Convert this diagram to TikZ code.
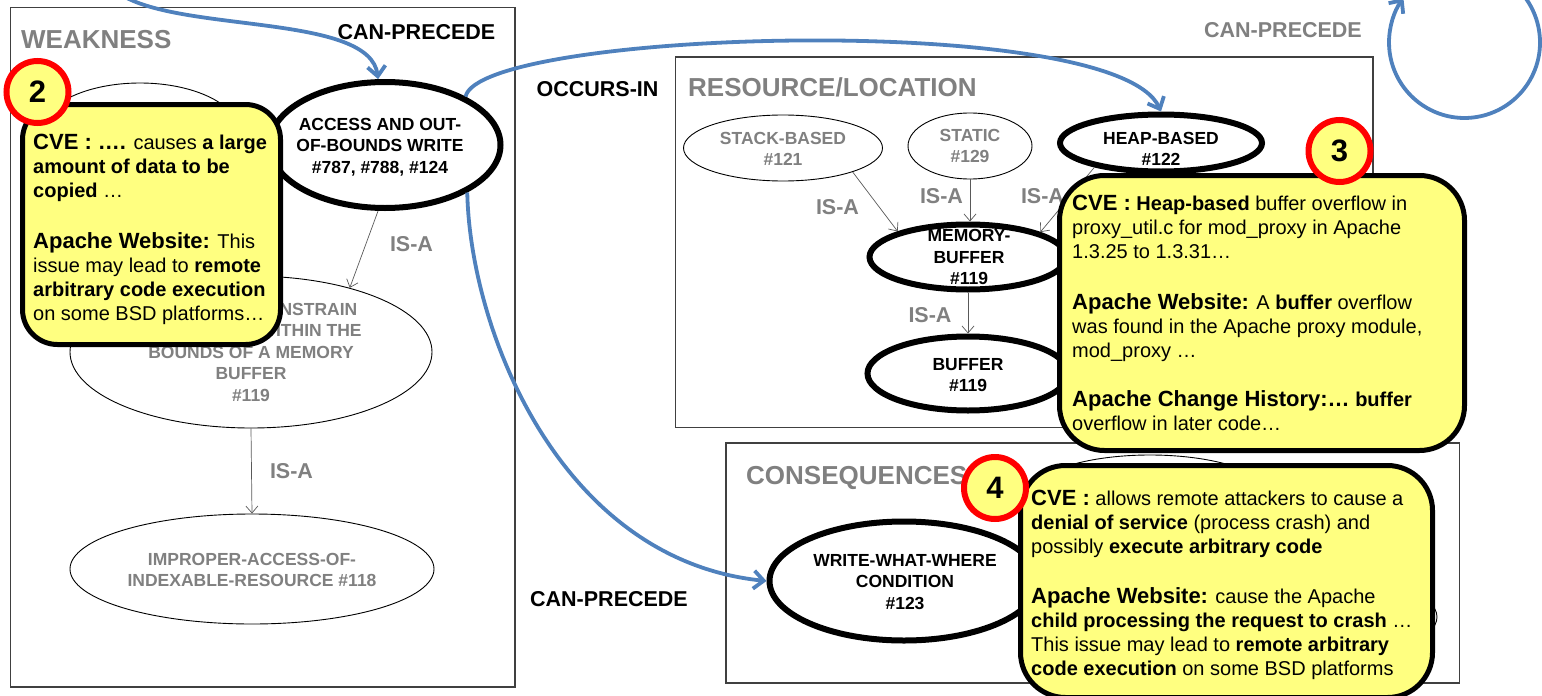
\documentclass[tikz,border=0pt]{standalone}
\usepackage{fontspec}
\setmainfont{Liberation Sans}
\usetikzlibrary{shapes.geometric,arrows.meta}

\definecolor{cyel}{RGB}{255,255,128}
\definecolor{cblue}{RGB}{79,129,189}
\definecolor{cgray}{RGB}{128,128,128}
\definecolor{cred}{RGB}{255,0,0}

% larger bold run used for the source headings inside the notes
\newcommand\calhead[1]{{\fontsize{22}{24}\selectfont\bfseries #1}}

\tikzset{
  frame/.style={rectangle, draw=black!75, line width=1.2pt, inner sep=0pt},
  title/.style={inner sep=0pt, anchor=base west, text=cgray, font=\fontsize{26}{30}\selectfont\bfseries},
  thinell/.style={ellipse, draw=black, line width=0.9pt, fill=white, inner sep=0pt},
  thickell/.style={ellipse, draw=black, line width=6pt, fill=white, inner sep=0pt},
  lbl/.style={align=center, inner sep=0pt, font=\fontsize{17.5}{21.5}\selectfont\bfseries},
  glbl/.style={lbl, text=cgray},
  rel/.style={inner sep=0pt, font=\fontsize{21.5}{24}\selectfont\bfseries},
  grel/.style={rel, text=cgray},
  isa/.style={draw=black!65, line width=0.7pt, -{Straight Barb[length=7pt,width=12pt]}},
  flow/.style={draw=cblue, line width=3.8pt, -{Straight Barb[length=10pt,width=18pt]}},
  callout/.style={rectangle, draw=black, line width=5pt, fill=cyel, inner sep=0pt},
  ctext/.style={align=left, inner sep=0pt, anchor=north west, font=\fontsize{20}{24}\selectfont},
  numc/.style={circle, draw=cred, line width=6pt, fill=cyel, minimum size=62pt, inner sep=0pt,
               font=\fontsize{31}{31}\selectfont\bfseries},
}

\begin{document}
\begin{tikzpicture}[x=1pt,y=-1pt]
\useasboundingbox (0,0) rectangle (1542,696);
\clip (0,0) rectangle (1542,696);

% ---- category frames ----
\node[frame, minimum width=504.5pt, minimum height=679.5pt] (fweak) at (262.75,347.25) {};
\node[frame, minimum width=697.5pt, minimum height=370.5pt] (fres) at (1024.25,242.25) {};
\node[frame, minimum width=733.5pt, minimum height=240pt] (fcons) at (1092.75,563) {};
\node[title] (tweak) at (21,48) {WEAKNESS};
\node[title] (tres) at (688,96) {RESOURCE/LOCATION};
\node[title] (tcons) at (746,484) {CONSEQUENCES};

% ---- concept ellipses ----
\node[thinell, minimum width=200pt, minimum height=100pt] (wk0) at (140,133) {};
\node[thickell, minimum width=231pt, minimum height=126pt] (access) at (385,145) {};
\node[thinell, minimum width=362pt, minimum height=152pt] (constrain) at (251,352) {};
\node[thinell, minimum width=364pt, minimum height=110pt] (improper) at (252,569) {};
\node[thinell, minimum width=199pt, minimum height=66pt] (stack) at (783,148) {};
\node[thinell, minimum width=124pt, minimum height=66pt] (static) at (970,146) {};
\node[thickell, minimum width=202pt, minimum height=57pt] (heap) at (1161,143) {};
\node[thickell, minimum width=197pt, minimum height=65pt] (membuf) at (968,257) {};
\node[thickell, minimum width=201pt, minimum height=74pt] (buffer) at (968,373.5) {};
\node[thickell, minimum width=269pt, minimum height=119pt] (www) at (904,581) {};
\node[thinell, minimum width=240pt, minimum height=80pt] (consA) at (1150,495) {};
\node[thinell, minimum width=214pt, minimum height=80pt] (consB) at (1330,617) {};

\node[lbl] (accessT) at (380,147) {ACCESS AND OUT-\\OF-BOUNDS WRITE\\\#787, \#788, \#124};
\node[glbl] (constrainT) at (251,352) {FAILURE TO CONSTRAIN\\OPERATIONS WITHIN THE\\BOUNDS OF A MEMORY\\BUFFER\\\#119};
\node[glbl] (improperT) at (252,570) {IMPROPER-ACCESS-OF-\\INDEXABLE-RESOURCE \#118};
\node[glbl] (stackT) at (783,149) {STACK-BASED\\\#121};
\node[glbl] (staticT) at (970,146) {STATIC\\\#129};
\node[lbl] (heapT) at (1161,149) {HEAP-BASED\\\#122};
\node[lbl] (membufT) at (969,257) {MEMORY-\\BUFFER\\\#119};
\node[lbl] (bufferT) at (968,375) {BUFFER\\\#119};
\node[lbl] (wwwT) at (905,582) {WRITE-WHAT-WHERE\\CONDITION\\\#123};

% ---- IS-A links ----
\draw[isa] (access.-96) -- (constrain.33);
\draw[isa] (constrain.south) -- (improper.north);
\draw[isa] (stack.-19) -- (membuf.160);
\draw[isa] (static.south) -- (static.south |- membuf.north);
\draw[isa] (heap.200) -- (membuf.19);
\draw[isa] (membuf.south) -- (buffer.north);

\node[grel] (isa1) at (411.5,244.5) {IS-A};
\node[grel] (isa2) at (291.5,471) {IS-A};
\node[grel] (isa3) at (837.5,207.5) {IS-A};
\node[grel] (isa4) at (941.5,196) {IS-A};
\node[grel] (isa5) at (1042.5,196) {IS-A};
\node[grel] (isa6) at (930,315.5) {IS-A};

% ---- cross-category relations ----
\coordinate (inTop) at (125,-3);
\coordinate (loopStart) at (1502.25,-22.9);
\draw[flow] (inTop) .. controls (190,32) and (370,15) .. (access.96);
\draw[flow] (access.31) .. controls (480,30) and (1115,10) .. (heap.north);
\draw[flow] (access.-30) .. controls (470,330) and (560,560) .. (www.west);
\draw[flow] (loopStart) arc[start angle=60, end angle=-216, radius=75.5pt];

\node[rel] (cp1) at (416.5,32.5) {CAN-PRECEDE};
\node[rel] (occ) at (597.5,89) {OCCURS-IN};
\node[rel] (cp2) at (609,599) {CAN-PRECEDE};
\node[grel] (cp3) at (1283,30.5) {CAN-PRECEDE};

% ---- evidence notes ----
\node[callout, rounded corners=35pt, minimum width=258pt, minimum height=240pt] (c2) at (151.5,224.5) {};
\node[callout, rounded corners=45pt, minimum width=405pt, minimum height=275pt] (c3) at (1262,313) {};
\node[callout, rounded corners=45pt, minimum width=412pt, minimum height=232pt] (c4) at (1226.5,581.5) {};

\node[ctext] (c2t) at (33,134) {%
\calhead{CVE : ….} causes \textbf{a large}\\
\textbf{amount of data to be}\\
\textbf{copied} …\\[26.5pt]
\calhead{Apache Website:} This\\
issue may lead to \textbf{remote}\\
\textbf{arbitrary code execution}\\
on some BSD platforms…};

\node[ctext] (c3t) at (1072,195) {%
\calhead{CVE :} \textbf{Heap-based} buffer overflow in\\
proxy\_util.c for mod\_proxy in Apache\\
1.3.25 to 1.3.31…\\[26.5pt]
\calhead{Apache Website:} A \textbf{buffer} overflow\\
was found in the Apache proxy module,\\
mod\_proxy …\\[25.5pt]
\calhead{Apache Change History:…} \textbf{buffer}\\
overflow in later code…};

\node[ctext] (c4t) at (1031,490) {%
\calhead{CVE :} allows remote attackers to cause a\\
\textbf{denial of service} (process crash) and\\
possibly \textbf{execute arbitrary code}\\[26pt]
\calhead{Apache Website:} cause the Apache\\
\textbf{child processing the request to crash} …\\
This issue may lead to \textbf{remote arbitrary}\\
\textbf{code execution} on some BSD platforms};

\node[numc] (n2) at (37.5,92) {2};
\node[numc] (n3) at (1339.5,151) {3};
\node[numc] (n4) at (995,488) {4};
\end{tikzpicture}
\end{document}
